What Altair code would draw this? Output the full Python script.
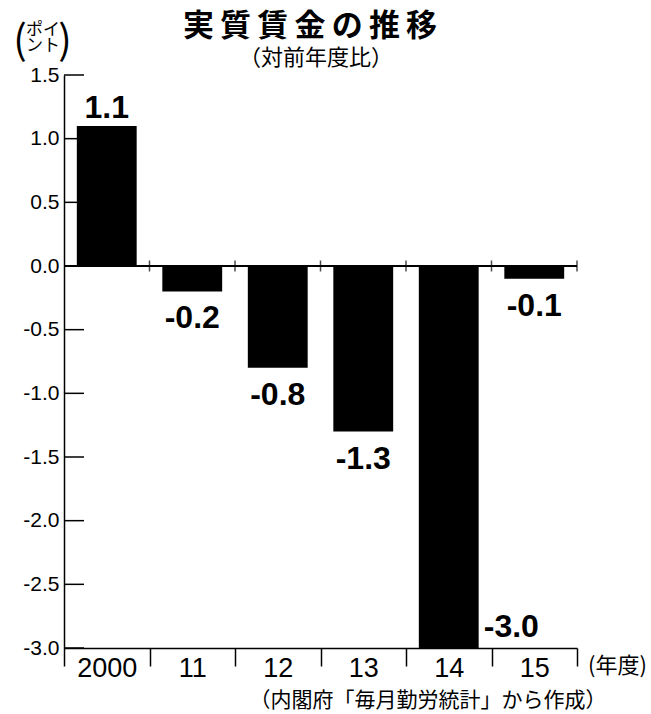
import altair as alt
import pandas as pd

# Real wages, year-on-year change (points), by fiscal year
YEARS = ["2000", "11", "12", "13", "14", "15"]
CHANGE = [1.1, -0.2, -0.8, -1.3, -3.0, -0.1]
Y_TICKS = [1.5, 1.0, 0.5, 0.0, -0.5, -1.0, -1.5, -2.0, -2.5, -3.0]

Y_MIN, Y_MAX = -3.0, 1.5
W, H = 513, 573

NUM = "Liberation Sans"
JP = "Noto Sans CJK JP"
FMT = "replace(format(datum.value, '.1f'), '\u2212', '-')"

df = pd.DataFrame({"year": YEARS, "value": CHANGE})

x_axis = alt.Axis(
    title=None,
    tickBand="extent",
    tickSize=18,
    tickWidth=1.5,
    tickColor="black",
    domainColor="black",
    domainWidth=1.5,
    labelAngle=0,
    labelFont=NUM,
    labelFontSize=27,
    labelColor="black",
    labelPadding=-11,
)
x_scale = alt.Scale(paddingInner=0, paddingOuter=0)

y_axis = alt.Axis(
    title=None,
    values=Y_TICKS,
    labelExpr=FMT,
    ticks=False,
    grid=False,
    domainColor="black",
    domainWidth=1.5,
    labelFont=NUM,
    labelFontSize=21,
    labelColor="black",
    labelPadding=5,
)
y_scale = alt.Scale(domain=[Y_MIN, Y_MAX], nice=False, zero=False)


def xpos(**kw):
    return alt.X("year:N", sort=YEARS, scale=x_scale, axis=x_axis, **kw)


def ypos(field):
    return alt.Y(field, scale=y_scale, axis=y_axis)


base = alt.Chart(df)

bars = base.mark_bar(color="black", width=alt.RelativeBandSize(0.7)).encode(
    x=xpos(),
    y=ypos("value:Q"),
    y2=alt.datum(0),
)

# zero baseline with boundary ticks crossing it
zero_line = base.mark_rule(color="black", strokeWidth=1.5).encode(y=alt.datum(0))
zero_ticks = base.mark_tick(color="black", orient="vertical", size=11, thickness=1.5).encode(
    x=xpos(bandPosition=1),
    y=alt.datum(0),
)

# inward ticks on the value axis
y_tick_df = pd.DataFrame({"value": Y_TICKS})
y_ticks = alt.Chart(y_tick_df).mark_rule(color="black", strokeWidth=1.5).encode(
    y=ypos("value:Q"),
    x=alt.value(0),
    x2=alt.value(20),
)

labelled = base.transform_calculate(label=FMT)
label_style = dict(font=NUM, fontSize=32, fontWeight="bold", color="black")

pos_labels = labelled.transform_filter("datum.value >= 0").mark_text(
    baseline="alphabetic", dy=-8, **label_style
).encode(x=xpos(), y=ypos("value:Q"), text="label:N")

neg_labels = labelled.transform_filter(f"datum.value < 0 && datum.value > {Y_MIN}").mark_text(
    baseline="alphabetic", dy=37, **label_style
).encode(x=xpos(), y=ypos("value:Q"), text="label:N")

edge_labels = labelled.transform_filter(f"datum.value <= {Y_MIN}").mark_text(
    baseline="alphabetic", align="left", dx=35, dy=-11, **label_style
).encode(x=xpos(), y=ypos("value:Q"), text="label:N")


def note(text, x, y, size, weight="normal", align="center", font=JP):
    return alt.Chart(alt.InlineData(values=[{}])).mark_text(
        text=text, font=font, fontSize=size, fontWeight=weight, align=align,
        baseline="middle", color="black",
    ).encode(x=alt.value(x), y=alt.value(y))


title = note("実\u2009質\u2009賃\u2009金\u2009の\u2009推\u2009移", 246, -48, 31, weight="bold")
subtitle = note("（対前年度比）", 252, -17, 22)
unit_open = note("(", -44, -33, 40)
unit_close = note(")", 1, -33, 40)
unit_top = note("ポイ", -21, -45, 17)
unit_bottom = note("ント", -21, -29, 17)
x_unit = note("(年度)", 524, 591, 22, align="left")
source = note("（内閣府「毎月勤労統計」から作成）", 364, 626, 21)

chart = (
    alt.layer(
        bars, zero_line, zero_ticks, y_ticks, pos_labels, neg_labels, edge_labels,
        title, subtitle, unit_open, unit_close, unit_top, unit_bottom, x_unit, source,
    )
    .properties(
        width=W,
        height=H,
        autosize=alt.AutoSizeParams(type="none"),
        padding={"left": 64, "top": 75, "right": 74, "bottom": 66},
        background="white",
    )
    .configure_view(stroke=None)
)

chart.save("out.html", embed_options={"renderer": "svg", "actions": False})
